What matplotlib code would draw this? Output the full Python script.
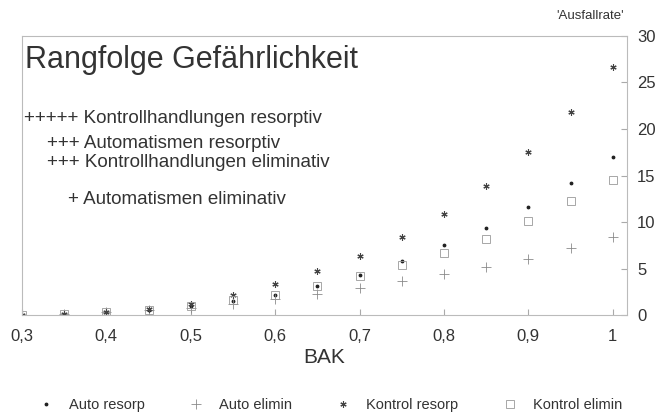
import matplotlib.pyplot as plt

plt.rcParams['font.family'] = ['Liberation Sans', 'DejaVu Sans']

# Blutalkoholkonzentration (BAK) und "Ausfallrate" je Gruppe
bak = [0.3, 0.35, 0.4, 0.45, 0.5, 0.55, 0.6, 0.65, 0.7, 0.75, 0.8, 0.85, 0.9, 0.95, 1.0]
auto_resorp = [0.0, 0.1, 0.3, 0.6, 1.0, 1.5, 2.2, 3.1, 4.3, 5.8, 7.5, 9.4, 11.6, 14.2, 17.0]
auto_elimin = [0.0, 0.1, 0.3, 0.5, 0.8, 1.2, 1.7, 2.3, 2.9, 3.7, 4.4, 5.2, 6.0, 7.2, 8.4]
kontrol_resorp = [0.0, 0.1, 0.3, 0.7, 1.2, 2.2, 3.3, 4.7, 6.3, 8.4, 10.9, 13.9, 17.5, 21.8, 26.7]
kontrol_elimin = [0.0, 0.1, 0.3, 0.6, 1.0, 1.6, 2.2, 3.1, 4.2, 5.4, 6.7, 8.2, 10.1, 12.3, 14.5]

x_ticks = [0.3, 0.4, 0.5, 0.6, 0.7, 0.8, 0.9, 1.0]
x_tick_labels = ['0,3', '0,4', '0,5', '0,6', '0,7', '0,8', '0,9', '1']
y_ticks = [0, 5, 10, 15, 20, 25, 30]

fig = plt.figure(figsize=(6.63, 4.13), dpi=100)
ax = fig.add_axes([0.033, 0.237, 0.913, 0.676])

ax.plot(bak, auto_resorp, ls='none', marker='.', ms=3.5, color='#222222', label='Auto resorp')
ax.plot(bak, auto_elimin, ls='none', marker='+', ms=7, mew=0.6, color='#8a8a8a', label='Auto elimin')
ax.plot(bak, kontrol_resorp, ls='none', marker=(6, 2, 0), ms=4.5, mew=0.8, color='#444444', label='Kontrol resorp')
ax.plot(bak, kontrol_elimin, ls='none', marker='s', ms=5.5, mew=0.6, mfc='none', mec='#999999', label='Kontrol elimin')

ax.set_xlim(0.3, 1.017)
ax.set_ylim(0, 30)
ax.set_xticks(x_ticks)
ax.set_xticklabels(x_tick_labels, fontsize=12, color='#333333')
ax.set_yticks(y_ticks)
ax.yaxis.tick_right()
ax.tick_params(axis='y', direction='in', length=4, labelsize=12, labelcolor='#333333', color='#aaaaaa', pad=7)
ax.tick_params(axis='x', direction='in', length=4, color='#aaaaaa', pad=10)
for s in ax.spines.values():
    s.set_color('#bbbbbb')
    s.set_linewidth(0.8)

ax.set_xlabel('BAK', fontsize=15, color='#333333', labelpad=3)
fig.text(0.89, 0.962, "'Ausfallrate'", fontsize=9.5, color='#333333', ha='center', va='center')

ax.text(0.005, 0.915, 'Rangfolge Gefährlichkeit', transform=ax.transAxes,
        fontsize=22, color='#333333', va='center')
notes = [
    (0.004, 0.705, '+++++ Kontrollhandlungen resorptiv'),
    (0.042, 0.615, '+++ Automatismen resorptiv'),
    (0.042, 0.545, '+++ Kontrollhandlungen eliminativ'),
    (0.076, 0.415, '+ Automatismen eliminativ'),
]
for nx, ny, txt in notes:
    ax.text(nx, ny, txt, transform=ax.transAxes, fontsize=13.5, color='#333333', va='center')

fig.legend(loc='center', bbox_to_anchor=(0.497, 0.02), ncol=4, frameon=False,
           fontsize=10.5, handlelength=1.2, handletextpad=1.0, columnspacing=2.9, labelcolor='#333333')

fig.savefig('out.png', dpi=100)
